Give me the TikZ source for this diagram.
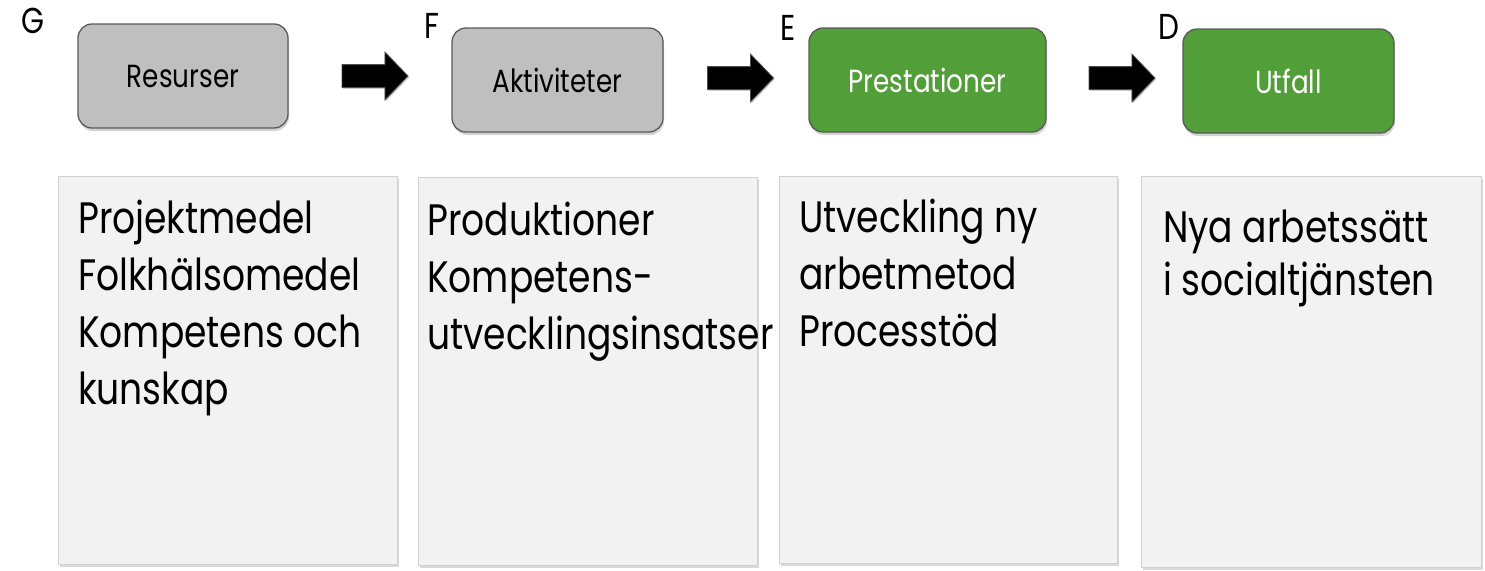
\documentclass[tikz,border=0pt]{standalone}
\usepackage{fontspec}
\setmainfont[FakeStretch=0.82]{Poppins}
\usetikzlibrary{shadows,shapes.arrows}
\definecolor{boxgray}{HTML}{BFBFBF}
\definecolor{boxgreen}{HTML}{529E39}
\definecolor{panelfill}{HTML}{F2F2F2}
\definecolor{edgegray}{HTML}{5A5A5A}
\newcommand{\lettersize}{\fontsize{36}{40}\selectfont}
\begin{document}
\begin{tikzpicture}[x=1pt,y=-1pt,
  topbox/.style={draw=edgegray, line width=1.3pt, rounded corners=14pt,
    minimum height=104pt, inner sep=0pt,
    font=\fontsize{32}{36}\selectfont,
    drop shadow={shadow xshift=1pt, shadow yshift=-3pt, opacity=0.35}},
  graybox/.style={topbox, fill=boxgray, text=black},
  greenbox/.style={topbox, fill=boxgreen, text=white},
  blockarrow/.style={single arrow, fill=black, draw=black!70, line width=0.8pt,
    minimum height=66pt, inner xsep=0pt, inner ysep=11pt,
    single arrow head extend=12.5pt, single arrow tip angle=92,
    drop shadow={shadow xshift=1pt, shadow yshift=-1.5pt, opacity=0.4}},
  panel/.style={fill=panelfill, draw=black!18, line width=0.6pt, inner sep=0pt,
    drop shadow={shadow xshift=2pt, shadow yshift=-3pt, opacity=0.3}},
  paneltext/.style={anchor=base west, inner sep=0pt, font=\fontsize{44}{57}\selectfont},
  steplabel/.style={anchor=base, inner sep=0pt, font=\lettersize}]
\useasboundingbox (0,0) rectangle (1485,570);

% top boxes
\node[graybox,  minimum width=210pt] (res) at (183,76)   {Resurser};
\node[graybox,  minimum width=211pt] (akt) at (557.5,80) {Aktiviteter};
\node[greenbox, minimum width=237pt] (pre) at (927.5,80) {Prestationer};
\node[greenbox, minimum width=211pt] (utf) at (1288.5,81)  {Utfall};

% letters
\node[steplabel] (lg) at (33,33)   {G};
\node[steplabel] (lf) at (432,38)  {F};
\node[steplabel] (le) at (788,40)  {E};
\node[steplabel] (ld) at (1169,39) {D};

% arrows
\node[blockarrow] (a1) at (369.5,76) {};
\node[blockarrow] (a2) at (735,78) {};
\node[blockarrow] (a3) at (1116.5,78) {};

% panels
\node[panel, minimum width=339pt, minimum height=388pt] (p1) at (227.5,370) {};
\node[panel, minimum width=339pt, minimum height=388pt] (p2) at (587.5,371) {};
\node[panel, minimum width=338pt, minimum height=387pt] (p3) at (948,369.5) {};
\node[panel, minimum width=340pt, minimum height=391pt] (p4) at (1311,371.5) {};

% panel texts
\node[paneltext] (t1) at (78,233) {\vtop{\hbox{Projektmedel}\hbox{Folkhälsomedel}\hbox{Kompetens och}\hbox{kunskap}}};
\node[paneltext] (t2) at (427,235) {\vtop{\hbox{Produktioner}\hbox{Kompetens-}\hbox{utvecklingsinsatser}}};
\node[paneltext] (t3) at (799,232) {\vtop{\hbox{Utveckling ny}\hbox{arbetmetod}\hbox{Processtöd}}};
\node[paneltext] (t4) at (1163,242) {\vtop{\baselineskip=53pt\hbox{Nya arbetssätt}\hbox{i socialtjänsten}}};
\end{tikzpicture}
\end{document}
